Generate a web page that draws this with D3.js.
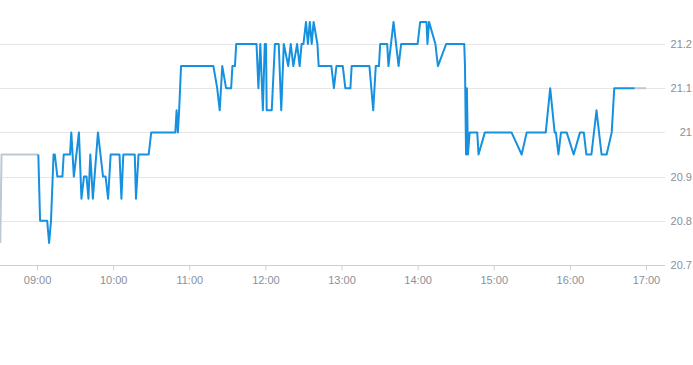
<!DOCTYPE html>
<html>
<head>
<meta charset="utf-8">
<script src="https://cdn.jsdelivr.net/npm/d3@7"></script>
<style>
  html, body { margin: 0; padding: 0; background: #ffffff; }
  svg { display: block; font-family: "Liberation Sans", Arial, sans-serif; }
</style>
</head>
<body>
<svg id="chart" width="693" height="365"></svg>
<script>
// ---- data ----
const times = [
  "08:31","08:32","09:01","09:02:24","09:08","09:09:30","09:11","09:13","09:14","09:16",
  "09:20","09:21","09:26","09:27","09:29","09:33","09:35","09:37","09:39","09:40:30",
  "09:42","09:44","09:48","09:50","09:52","09:54","09:56","09:58","10:05","10:06:30",
  "10:08","10:17","10:18","10:20","10:28","10:30","10:49","10:50","10:51","10:52",
  "10:53:30","11:19","11:22","11:24","11:26","11:29","11:33","11:34","11:36","11:37",
  "11:53","11:54:30","11:56","11:58","11:59:30","12:00:30","12:01","12:05","12:07:30","12:10:30",
  "12:12:30","12:14:30","12:18","12:20","12:22","12:25","12:27","12:28:30","12:30","12:32",
  "12:33:30","12:35","12:36:30","12:38","12:41","12:42","12:52","12:54","12:56","13:01",
  "13:03","13:07","13:08","13:22","13:25","13:27","13:29:30","13:30:30","13:36","13:37",
  "13:41","13:45","13:47","14:00","14:02","14:07","14:07:45","14:09","14:14","14:16",
  "14:22:30","14:36:45","14:37:20","14:38:10","14:38:50","14:39:40","14:41","14:47","14:48","14:53",
  "15:14","15:22","15:26","15:41","15:44:30","15:48","15:49","15:51","15:53","15:57:30",
  "16:03","16:08","16:11","16:13","16:17","16:21","16:25","16:29","16:33","16:35",
  "16:51","17:00"
];
const prices = [
  20.75,20.95,20.95,20.8,20.8,20.75,20.8,20.95,20.95,20.9,
  20.9,20.95,20.95,21.0,20.9,21.0,20.85,20.9,20.9,20.85,
  20.95,20.85,21.0,20.95,20.9,20.9,20.85,20.95,20.95,20.85,
  20.95,20.95,20.85,20.95,20.95,21.0,21.0,21.05,21.0,21.05,
  21.15,21.15,21.1,21.05,21.15,21.1,21.1,21.15,21.15,21.2,
  21.2,21.1,21.2,21.05,21.2,21.2,21.05,21.05,21.2,21.2,
  21.05,21.2,21.15,21.2,21.15,21.2,21.15,21.2,21.2,21.25,
  21.2,21.25,21.2,21.25,21.2,21.15,21.15,21.1,21.15,21.15,
  21.1,21.1,21.15,21.15,21.05,21.15,21.15,21.2,21.2,21.15,
  21.25,21.15,21.2,21.2,21.25,21.25,21.2,21.25,21.2,21.15,
  21.2,21.2,21.15,20.95,21.1,20.95,21.0,21.0,20.95,21.0,
  21.0,20.95,21.0,21.0,21.1,21.0,21.0,20.95,21.0,21.0,
  20.95,21.0,21.0,20.95,20.95,21.05,20.95,20.95,21.0,21.1,
  21.1,21.1
];
const sessionOpen = "09:01";
const sessionClose = "16:51";
const xDomain = ["08:30", "17:15"];
const xTickLabels = ["09:00","10:00","11:00","12:00","13:00","14:00","15:00","16:00","17:00"];
const yTicks = [20.7, 20.8, 20.9, 21.0, 21.1, 21.2];

// ---- helpers ----
function parseT(s) {
  const p = s.split(":").map(Number);
  return new Date(2020, 0, 1, p[0], p[1], p[2] || 0);
}

const data = times.map((t, i) => ({ t: parseT(t), v: prices[i] }));
const openT = parseT(sessionOpen), closeT = parseT(sessionClose);

const svg = d3.select("#chart");
const plotLeft = -1, plotRight = 665, plotTop = 44, plotBottom = 265;

const x = d3.scaleTime().domain(xDomain.map(parseT)).range([plotLeft, plotRight]);
const y = d3.scaleLinear().domain([20.7, 21.2]).range([plotBottom, plotTop]);

// grid lines
svg.append("g").selectAll("line")
  .data(yTicks.filter(v => v > 20.7))
  .join("line")
  .attr("x1", 0).attr("x2", plotRight)
  .attr("y1", d => Math.round(y(d)) + 0.5).attr("y2", d => Math.round(y(d)) + 0.5)
  .attr("stroke", "#e6e6e6").attr("stroke-width", 1);

// y labels (right)
svg.append("g").selectAll("text")
  .data(yTicks)
  .join("text")
  .attr("x", 692)
  .attr("y", d => y(d) + 4)
  .attr("text-anchor", "end")
  .attr("font-size", 11)
  .attr("fill", "#8a9099")
  .text(d => d3.format("~g")(d));

// x axis
const xAxis = d3.axisBottom(x)
  .tickValues(xTickLabels.map(parseT))
  .tickFormat(d3.timeFormat("%H:%M"))
  .tickSize(5)
  .tickSizeOuter(0);
const gx = svg.append("g")
  .attr("transform", `translate(0,${plotBottom + 0.5})`)
  .call(xAxis);
gx.select(".domain").attr("stroke", "#ccd0d6").attr("d", `M0,0H${plotRight}`);
gx.selectAll(".tick line").attr("stroke", "#ccd0d6");
gx.selectAll(".tick text")
  .attr("fill", "#8a9099")
  .attr("font-size", 11)
  .attr("font-family", "Liberation Sans, Arial, sans-serif")
  .attr("dy", "0.71em")
  .attr("y", 11);

// lines
const line = d3.line().x(d => x(d.t)).y(d => y(d.v));
const pre = data.filter(d => d.t <= openT);
const mid = data.filter(d => d.t >= openT && d.t <= closeT);
const post = data.filter(d => d.t >= closeT);

[pre, post].forEach(seg => {
  svg.append("path").datum(seg)
    .attr("d", line)
    .attr("fill", "none")
    .attr("stroke", "#bcc8d3")
    .attr("stroke-width", 2)
    .attr("stroke-linejoin", "round");
});
svg.append("path").datum(mid)
  .attr("d", line)
  .attr("fill", "none")
  .attr("stroke", "#1691e0")
  .attr("stroke-width", 2)
  .attr("stroke-linejoin", "round");
</script>
</body>
</html>
